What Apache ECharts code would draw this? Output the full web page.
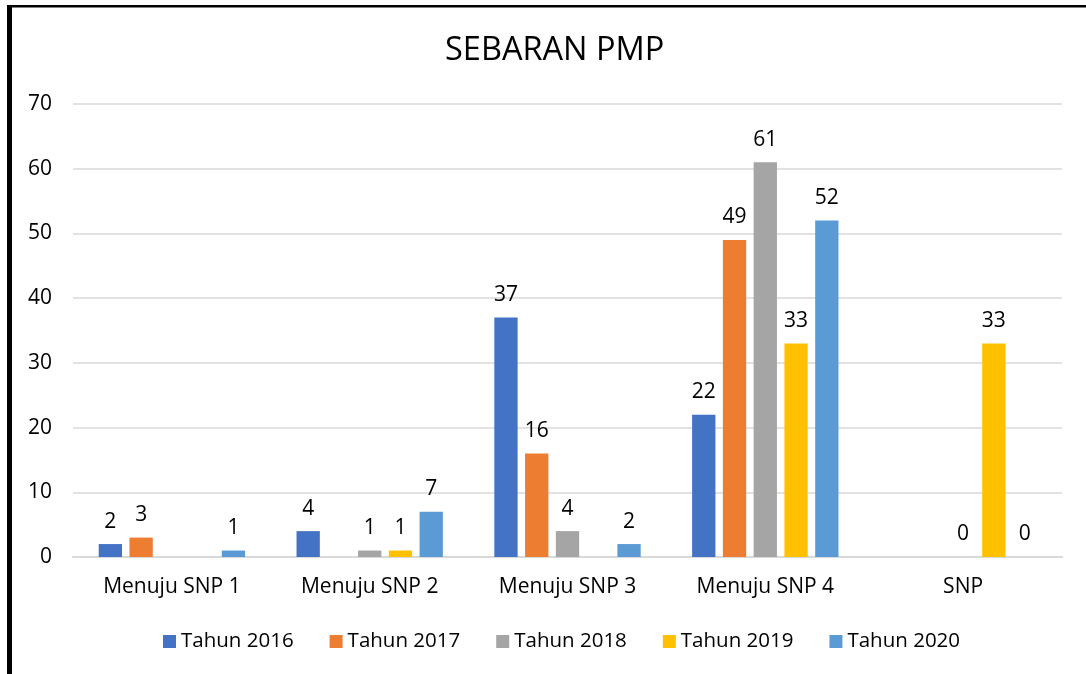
<!DOCTYPE html>
<html>
<head>
<meta charset="utf-8">
<script src="https://cdn.jsdelivr.net/npm/echarts@6/dist/echarts.min.js"></script>
<style>
html,body{margin:0;padding:0;background:#fff;}
#c{width:1086px;height:674px;}
</style>
</head>
<body>
<div id="c"></div>
<script>
var categories = ['Menuju SNP 1', 'Menuju SNP 2', 'Menuju SNP 3', 'Menuju SNP 4', 'SNP'];
var seriesNames = ['Tahun 2016', 'Tahun 2017', 'Tahun 2018', 'Tahun 2019', 'Tahun 2020'];
var tahun2016 = [2, 4, 37, 22, null];
var tahun2017 = [3, null, 16, 49, null];
var tahun2018 = [null, 1, 4, 61, 0];
var tahun2019 = [null, 1, null, 33, 33];
var tahun2020 = [1, 7, 2, 52, 0];
var yTicks = [0, 10, 20, 30, 40, 50, 60, 70];
var colors = ['#4472C4', '#ED7D31', '#A5A5A5', '#FFC000', '#5B9BD5'];

var allData = [tahun2016, tahun2017, tahun2018, tahun2019, tahun2020];
var FONT = 'Open Sans';

var chart = echarts.init(document.getElementById('c'), null, {renderer: 'canvas'});
var series = allData.map(function (d, i) {
  return {
    name: seriesNames[i],
    type: 'bar',
    data: d.map(function (v) { return v === null ? '-' : v; }),
    itemStyle: {color: colors[i]},
    barGap: '32%',
    barCategoryGap: '26%',
    label: {
      show: true,
      position: 'top',
      distance: 12,
      color: '#000',
      fontFamily: FONT,
      fontSize: 21
    }
  };
});

chart.setOption({
  animation: false,
  backgroundColor: '#fff',
  title: {
    text: 'SEBARAN PMP',
    left: 440,
    top: 29,
    textStyle: {fontFamily: FONT, fontSize: 32.5, fontWeight: 'normal', color: '#000'}
  },
  legend: {
    data: seriesNames,
    bottom: 17,
    left: 158,
    itemWidth: 13,
    itemHeight: 13,
    itemGap: 36,
    icon: 'rect',
    textStyle: {fontFamily: FONT, fontSize: 20.5, color: '#000'}
  },
  grid: {left: 73, right: 24, top: 104, bottom: 117, containLabel: false},
  xAxis: {
    type: 'category',
    data: categories,
    axisLine: {lineStyle: {color: '#d9d9d9', width: 2}},
    axisTick: {show: false},
    axisLabel: {fontFamily: FONT, fontSize: 21, color: '#000', margin: 20}
  },
  yAxis: {
    type: 'value',
    min: 0,
    max: 70,
    interval: 10,
    axisLine: {show: false},
    axisTick: {show: false},
    splitLine: {lineStyle: {color: '#d9d9d9', width: 1.5}},
    axisLabel: {fontFamily: FONT, fontSize: 21, color: '#000', margin: 21,
      formatter: function (v) { return yTicks.indexOf(v) >= 0 ? String(v) : ''; }}
  },
  series: series,
  graphic: [
    {type: 'rect', shape: {x: 7, y: 5, width: 1079, height: 2.5}, style: {fill: '#000'}, silent: true},
    {type: 'rect', shape: {x: 7, y: 5, width: 5, height: 669}, style: {fill: '#000'}, silent: true}
  ]
});
</script>
</body>
</html>
